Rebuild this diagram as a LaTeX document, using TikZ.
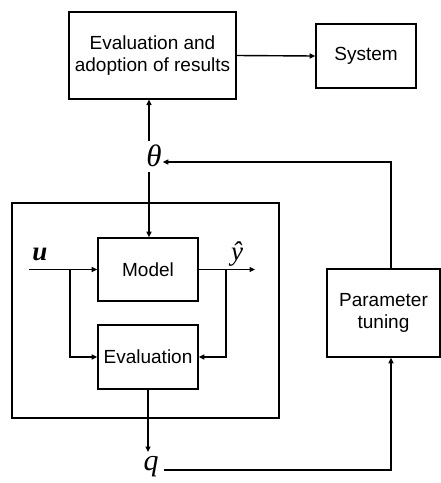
\documentclass[tikz,border=0pt]{standalone}
\usepackage{fontspec}
\setmainfont{Liberation Sans}
\newfontfamily\mathserif{Liberation Serif}
\usetikzlibrary{arrows.meta,calc}
\begin{document}
\begin{tikzpicture}[x=1pt,y=-1pt,
  blk/.style={draw,line width=1.6pt,inner sep=0pt,align=center,font=\fontsize{19}{22}\selectfont},
  arr/.style={line width=1.4pt,-{Triangle[length=5.5pt,width=5pt]}},
  sym/.style={inner sep=1pt,font=\mathserif\fontsize{27}{27}\selectfont\itshape}]
\useasboundingbox (0,0) rectangle (441,483);
\node[blk,minimum width=167pt,minimum height=87pt] (adopt) at (152.5,55.5) {Evaluation and\\adoption of results};
\node[blk,minimum width=100pt,minimum height=64pt] (sys) at (366,56) {System};
\node[sym,font=\mathserif\fontsize{31}{31}\selectfont\itshape] (theta) at (154,156) {θ};
\draw[line width=1.9pt] (12,203) rectangle (279,418);
\node[blk,minimum width=100pt,minimum height=63pt] (model) at (148,269.5) {Model};
\node[blk,minimum width=100pt,minimum height=64pt] (eval) at (148,357) {Evaluation};
\node[blk,minimum width=113pt,minimum height=88pt] (tune) at (383.5,313) {Parameter\\tuning};
\node[sym,font=\mathserif\fontsize{27}{27}\selectfont\bfseries\itshape] (u) at (40,254) {u};
\node[sym] (yhat) at (237,254) {ŷ};
\node[sym,font=\mathserif\fontsize{30}{30}\selectfont\itshape] (q) at (151,467) {q};
\coordinate (uin) at (29,269.5);
\coordinate (yout) at (255,269.5);
\coordinate (ubr) at (70,269.5);
\coordinate (ybr) at (226,269.5);
\coordinate (thin) at (149,162);
\coordinate (qout) at (148,452);
\coordinate (qln) at (164,470);
% top
\draw[arr] (adopt.east) -- (sys.west);
\draw[arr] (149,141) -- (149,99.5);
\draw[arr] (tune.north -| 391,0) |- (theta.east |- thin);
\draw[arr] (149,172) -- (model.north -| 149,0);
% inner
\draw[arr] (uin) -- (model.west);
\draw[arr] (ubr) |- (eval.west);
\draw[arr] (model.east) -- (yout);
\draw[arr] (ybr) |- (eval.east);
\draw[arr] (eval.south) -- (qout);
\draw[arr] (qln) -| (tune.south -| 391,0);
\end{tikzpicture}
\end{document}
